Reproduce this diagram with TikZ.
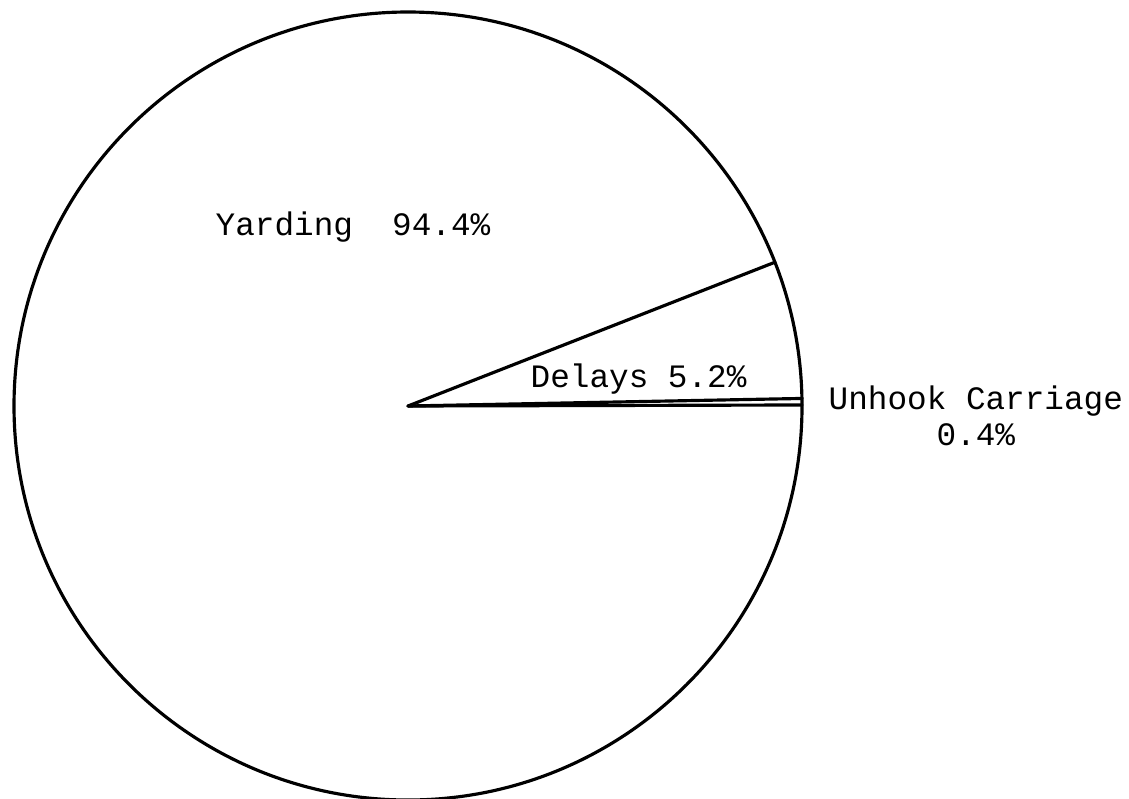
\documentclass[tikz,border=0pt]{standalone}
\usepackage{fontspec}
\setmonofont{Liberation Mono}
\usepackage{tikz}
\usetikzlibrary{calc}
\tikzset{
  rim/.style={draw=black, line width=0.9pt},
  cut/.style={draw=black, line width=0.9pt, line cap=round},
  etiq/.style={font=\ttfamily\fontsize{9.3}{10}\selectfont, inner sep=0pt, anchor=base west},
}

\begin{document}
\begin{tikzpicture}[x=0.1mm, y=0.1mm]
\useasboundingbox (0,0) rectangle (1129,798);
% pie outline and centre
\coordinate (c) at (408,392);
\draw[rim] (c) circle (394);
% slice borders
\coordinate (delA) at ($(c)+(21.4:394)$);
\coordinate (unhA) at ($(c)+(1.1:394)$);
\coordinate (unhB) at ($(c)+(0.15:394)$);
\draw[cut] (c) -- (delA);
\draw[cut] (c) -- (unhA);
\draw[cut] (c) -- (unhB);
% labels
\node[etiq] (yard) at (215,563) {Yarding~~94.4\%};
\node[etiq] (del) at (530,411) {Delays 5.2\%};
\node[etiq, align=center] (unh) at (828,353) {Unhook Carriage\\0.4\%};
\end{tikzpicture}
\end{document}
